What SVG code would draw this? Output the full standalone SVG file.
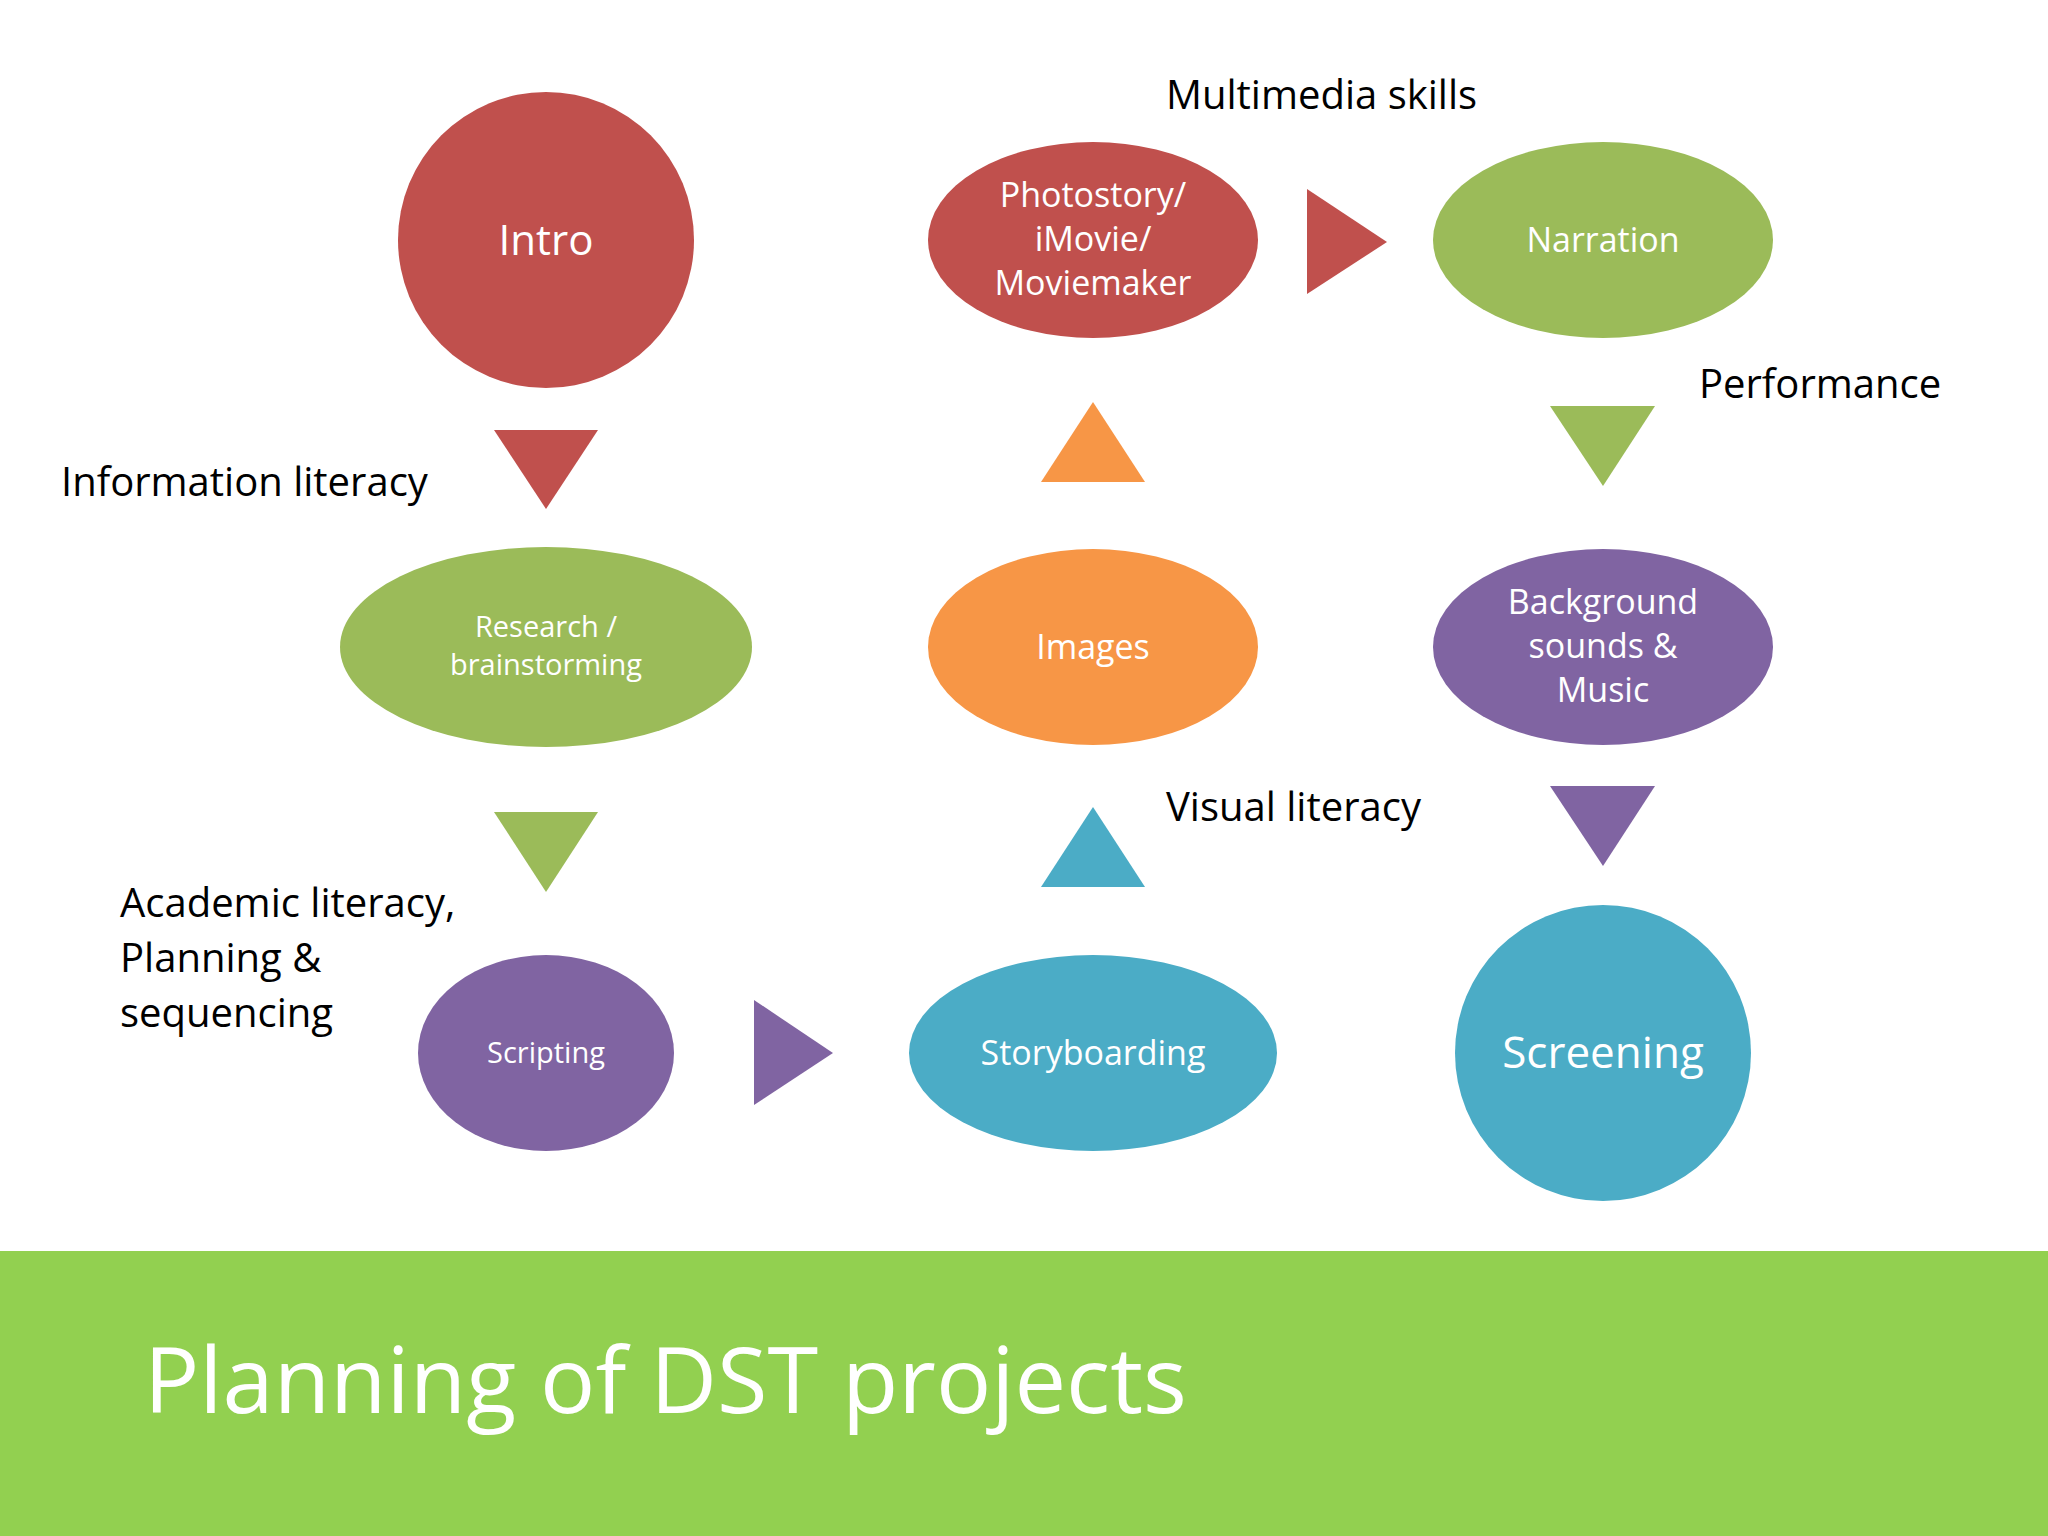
<svg xmlns="http://www.w3.org/2000/svg" width="2048" height="1536" viewBox="0 0 2048 1536">
<style>
text{font-family:"Open Sans","Liberation Sans",sans-serif}
.n{fill:#fff;text-anchor:middle}
.l{fill:#000;font-size:40px}
.r{fill:#C0504D}.g{fill:#9BBB59}.p{fill:#8064A2}.b{fill:#4BACC6}.o{fill:#F79646}
</style>
<rect width="2048" height="1536" fill="#fff"/>
<g id="intro"><circle class="r" cx="546" cy="240" r="148"/><text class="n" x="546" y="255" font-size="42">Intro</text></g>
<g id="photostory"><ellipse class="r" cx="1093" cy="240" rx="165" ry="98"/><text class="n" font-size="34"><tspan x="1093" y="207">Photostory/</tspan><tspan x="1093" y="251">iMovie/</tspan><tspan x="1093" y="295">Moviemaker</tspan></text></g>
<g id="narration"><ellipse class="g" cx="1603" cy="240" rx="170" ry="98"/><text class="n" x="1603" y="252" font-size="34">Narration</text></g>
<g id="research"><ellipse class="g" cx="546" cy="647" rx="206" ry="100"/><text class="n" font-size="29"><tspan x="546" y="637">Research /</tspan><tspan x="546" y="675">brainstorming</tspan></text></g>
<g id="images"><ellipse class="o" cx="1093" cy="647" rx="165" ry="98"/><text class="n" x="1093" y="659" font-size="34">Images</text></g>
<g id="background"><ellipse class="p" cx="1603" cy="647" rx="170" ry="98"/><text class="n" font-size="34"><tspan x="1603" y="614">Background</tspan><tspan x="1603" y="658">sounds &amp;</tspan><tspan x="1603" y="702">Music</tspan></text></g>
<g id="scripting"><ellipse class="p" cx="546" cy="1053" rx="128" ry="98"/><text class="n" x="546" y="1063" font-size="29">Scripting</text></g>
<g id="storyboarding"><ellipse class="b" cx="1093" cy="1053" rx="184" ry="98"/><text class="n" x="1093" y="1065" font-size="34">Storyboarding</text></g>
<g id="screening"><circle class="b" cx="1603" cy="1053" r="148"/><text class="n" x="1603" y="1068" font-size="44">Screening</text></g>
<g id="connectors">
<polygon class="r" points="494,430 598,430 546,509"/>
<polygon class="g" points="494,812 598,812 546,892"/>
<polygon class="p" points="754,1000 754,1105 833,1053"/>
<polygon class="b" points="1041,887 1145,887 1093,807"/>
<polygon class="o" points="1041,482 1145,482 1093,402"/>
<polygon class="r" points="1307,189 1307,294 1387,242"/>
<polygon class="g" points="1550,406 1655,406 1603,486"/>
<polygon class="p" points="1550,786 1655,786 1603,866"/>
</g>
<g id="labels">
<text class="l" x="1166" y="109">Multimedia skills</text>
<text class="l" x="1699" y="398">Performance</text>
<text class="l" x="61" y="496">Information literacy</text>
<text class="l" x="1166" y="821">Visual literacy</text>
<text class="l"><tspan x="120" y="917">Academic literacy,</tspan><tspan x="120" y="972">Planning &amp;</tspan><tspan x="120" y="1027">sequencing</tspan></text>
</g>
<rect x="0" y="1251" width="2048" height="285" fill="#92D050"/>
<text x="144" y="1413" font-size="92" fill="#fff">Planning of DST projects</text>
</svg>
